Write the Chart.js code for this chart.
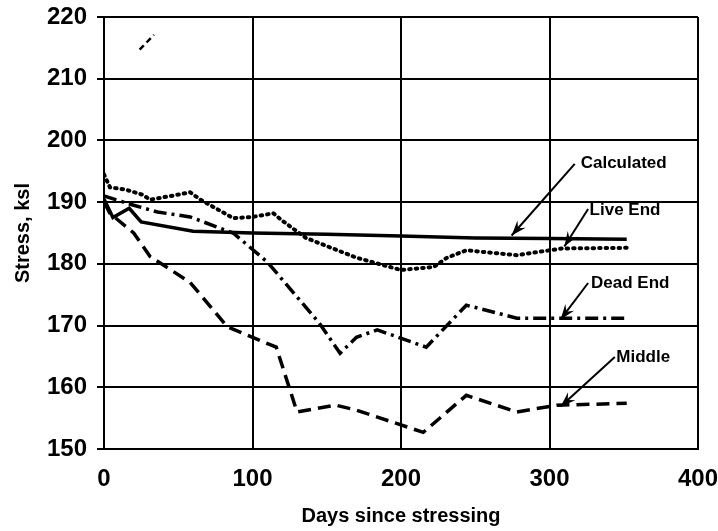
<!DOCTYPE html>
<html>
<head>
<meta charset="utf-8">
<script src="https://cdn.jsdelivr.net/npm/chart.js@4"></script>
<style>
  html, body { margin: 0; padding: 0; background: #fff; }
  #wrap { width: 718px; height: 531px; }
</style>
</head>
<body>
<div id="wrap"><canvas id="myChart" width="718" height="531"></canvas></div>
<script>
// Readings taken off the plot (days, ksi)
const calcDays = [0, 6, 17, 25, 60, 100, 150, 200, 250, 300, 352];
const calcStress = [190.5, 187.5, 189, 186.8, 185.3, 185, 184.8, 184.5, 184.2, 184.1, 184];

const liveDays = [0, 4, 15, 26, 31, 45, 58, 65, 87, 100, 114, 120, 136, 170, 200, 222, 231, 244, 278, 300, 309, 352];
const liveStress = [194.5, 192.4, 192, 191.2, 190.4, 191, 191.6, 190.4, 187.4, 187.6, 188.2, 187, 184.2, 181, 179, 179.5, 181, 182.2, 181.4, 182.2, 182.5, 182.6];

const deadDays = [0, 20, 36, 58, 87, 110, 145, 159, 170, 184, 217, 244, 278, 300, 352];
const deadStress = [191, 189.5, 188.4, 187.6, 185, 180.3, 170.4, 165.5, 168.1, 169.3, 166.5, 173.3, 171.2, 171.2, 171.2];

const midDays = [0, 4, 20, 31, 58, 83, 116, 130, 156, 170, 215, 244, 278, 305, 352];
const midStress = [190, 188.2, 185, 181.2, 177, 169.8, 166.5, 156, 157.1, 156.3, 152.7, 158.7, 156, 157.1, 157.4];

// stray mark on the original scan
const strayDays = [24, 33.6];
const strayStress = [214.7, 217.1];

const xTicks = [0, 100, 200, 300, 400];
const yTicks = [150, 160, 170, 180, 190, 200, 210, 220];

// label text, label anchor, arrow tail, arrow head (data units)
const noteText = ['Calculated', 'Live End', 'Dead End', 'Middle'];
const noteAt = [[321, 196.3], [327, 188.7], [328, 176.9], [345, 164.9]];
const noteTail = [[317, 196.2], [326, 188.9], [326, 176.9], [344, 164.9]];
const noteHead = [[274.5, 184.6], [310, 182.8], [307.5, 171], [307.5, 156.9]];

function pts(xs, ys) {
    return xs.map((x, i) => ({ x: x, y: ys[i] }));
}

function noPad(s) {
    s.paddingTop = 0;
    s.paddingBottom = 0;
    s.paddingLeft = 0;
    s.paddingRight = 0;
}

const notesPlugin = {
    id: 'notes',
    afterDatasetsDraw(chart) {
        const ctx = chart.ctx;
        const xs = chart.scales.x, ys = chart.scales.y;
        ctx.save();
        ctx.strokeStyle = '#000';
        ctx.fillStyle = '#000';
        ctx.lineWidth = 2;
        ctx.font = 'bold 17px "Liberation Sans", Arial, sans-serif';
        ctx.textBaseline = 'middle';
        noteText.forEach((t, i) => {
            const x1 = xs.getPixelForValue(noteTail[i][0]), y1 = ys.getPixelForValue(noteTail[i][1]);
            const x2 = xs.getPixelForValue(noteHead[i][0]), y2 = ys.getPixelForValue(noteHead[i][1]);
            ctx.beginPath();
            ctx.moveTo(x1, y1);
            ctx.lineTo(x2, y2);
            ctx.stroke();
            // arrow head
            const a = Math.atan2(y2 - y1, x2 - x1);
            const len = 16, w = 0.35;
            ctx.beginPath();
            ctx.moveTo(x2, y2);
            ctx.lineTo(x2 - len * Math.cos(a - w), y2 - len * Math.sin(a - w));
            ctx.lineTo(x2 - len * 0.6 * Math.cos(a), y2 - len * 0.6 * Math.sin(a));
            ctx.lineTo(x2 - len * Math.cos(a + w), y2 - len * Math.sin(a + w));
            ctx.closePath();
            ctx.fill();
            ctx.fillText(t, xs.getPixelForValue(noteAt[i][0]), ys.getPixelForValue(noteAt[i][1]));
        });
        ctx.restore();
    }
};

const lineBase = {
    showLine: true,
    pointRadius: 0,
    borderColor: '#000',
    backgroundColor: '#000',
    borderWidth: 3.5,
    fill: false,
    tension: 0
};

new Chart(document.getElementById('myChart').getContext('2d'), {
    type: 'scatter',
    data: {
        datasets: [
            Object.assign({}, lineBase, { label: 'Calculated', data: pts(calcDays, calcStress), borderWidth: 3.5 }),
            Object.assign({}, lineBase, { label: 'Live End', data: pts(liveDays, liveStress), borderDash: [1.5, 5], borderCapStyle: 'round', borderWidth: 4 }),
            Object.assign({}, lineBase, { label: 'Dead End', data: pts(deadDays, deadStress), borderDash: [13, 5, 3, 5] }),
            Object.assign({}, lineBase, { label: 'Middle', data: pts(midDays, midStress), borderDash: [13, 7] }),
            Object.assign({}, lineBase, { label: 'stray', data: pts(strayDays, strayStress), borderDash: [6, 4], borderWidth: 2.5 })
        ]
    },
    options: {
        responsive: false,
        animation: false,
        layout: { padding: { top: 17, right: 20, left: 0, bottom: 0 } },
        plugins: {
            legend: { display: false },
            tooltip: { enabled: false }
        },
        scales: {
            x: {
                type: 'linear',
                min: 0,
                max: 400,
                afterBuildTicks: s => { s.ticks = xTicks.map(v => ({ value: v })); },
                afterFit: s => { s.height = 82; noPad(s); },
                grid: { color: '#000', lineWidth: 2, tickLength: 0, drawTicks: false },
                border: { color: '#000', width: 2 },
                ticks: {
                    color: '#000',
                    padding: 16,
                    maxRotation: 0,
                    font: { family: '"Liberation Sans", Arial, sans-serif', size: 24, weight: 'bold' }
                },
                title: {
                    display: true,
                    text: 'Days since stressing',
                    color: '#000',
                    padding: { top: 0, bottom: 3 },
                    font: { family: '"Liberation Sans", Arial, sans-serif', size: 20, weight: 'bold' }
                }
            },
            y: {
                min: 150,
                max: 220,
                afterBuildTicks: s => { s.ticks = yTicks.map(v => ({ value: v })); },
                afterFit: s => { s.width = 104; noPad(s); },
                grid: { color: '#000', lineWidth: 2, tickLength: 7 },
                border: { color: '#000', width: 2 },
                ticks: {
                    color: '#000',
                    padding: 10,
                    font: { family: '"Liberation Sans", Arial, sans-serif', size: 24, weight: 'bold' }
                },
                title: {
                    display: true,
                    text: 'Stress, ksl',
                    color: '#000',
                    padding: { top: 11, bottom: 0 },
                    font: { family: '"Liberation Sans", Arial, sans-serif', size: 20, weight: 'bold' }
                }
            }
        }
    },
    plugins: [notesPlugin]
});
</script>
</body>
</html>
